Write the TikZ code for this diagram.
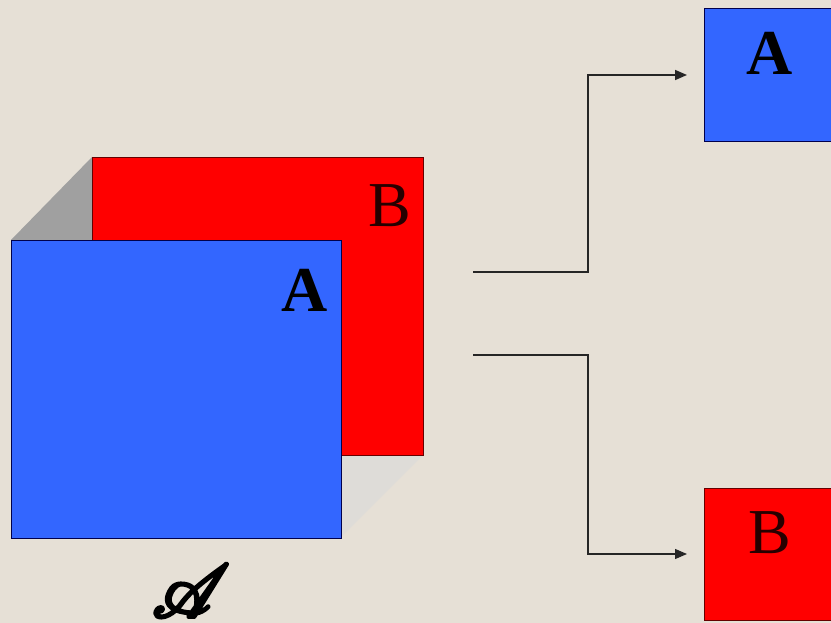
\documentclass[tikz,border=0pt]{standalone}
\usepackage{fontspec}
\setmainfont{Liberation Serif}
\usepackage{mathrsfs}
\usetikzlibrary{arrows.meta,calc}
\definecolor{bgc}{HTML}{E6E0D6}
\definecolor{bluef}{HTML}{3366FF}
\definecolor{redf}{HTML}{FF0000}
\definecolor{shadowd}{HTML}{A0A0A0}
\definecolor{shadowl}{HTML}{DEDCD8}
\newcommand{\heavytext}[1]{\special{pdf:literal 2 Tr 0.45 w 1 j}#1\special{pdf:literal 0 Tr}}
\tikzset{
  card/.style={draw, line width=1pt, inner sep=0pt, anchor=north west},
  bluecard/.style={card, fill=bluef, draw=blue!30!black},
  redcard/.style={card, fill=redf, draw=red!40!black},
  lbl/.style={font=\fontsize{64}{64}\selectfont, inner sep=0pt},
  conn/.style={line width=1.3pt, draw=black!85},
  tip/.style={-{Triangle[length=12pt,width=10pt]}}
}
\begin{document}
\begin{tikzpicture}[x=1pt,y=-1pt]
\fill[bgc] (0,0) rectangle (831,623);
\clip (0,0) rectangle (831,623);
% shadows
\fill[shadowd] (92,157) -- (92,240) -- (11,240) -- cycle;
\fill[shadowl] (341,455) -- (423,455) -- (341,537) -- cycle;
% big cards
\node[redcard, minimum width=331pt, minimum height=298pt] (bigB) at (92,157) {};
\node[bluecard, minimum width=330pt, minimum height=298pt] (bigA) at (11,240) {};
\node[lbl, text=black!85!red] (lB) at (390,206) {B};
\node[lbl, text=black, font=\fontsize{64}{64}\selectfont\bfseries] (lA) at (305,290) {A};
% script A
\node[inner sep=0pt, scale=7.5, text=black] (cal) at (191,591) {\heavytext{$\mathscr{A}$}};
% small cards
\node[bluecard, minimum width=140pt, minimum height=133pt] (smA) at (704,8) {};
\node[lbl, text=black, font=\fontsize{64}{64}\selectfont\bfseries] (sA) at (770,53) {A};
\node[redcard, minimum width=140pt, minimum height=132pt] (smB) at (704,488) {};
\node[lbl, text=black!85!red] (sB) at (770,533) {B};
% connectors
\coordinate (s1) at (473,272);
\coordinate (k1) at (588,75);
\coordinate (s2) at (473,355);
\coordinate (k2) at (588,554);
\draw[conn, tip, line width=1.6pt] (s1) -| (k1) -- ([xshift=-17pt]smA.west |- k1);
\draw[conn, tip, line width=1.1pt] (s2) -| (k2) -- ([xshift=-17pt]smB.west |- k2);
\end{tikzpicture}
\end{document}
